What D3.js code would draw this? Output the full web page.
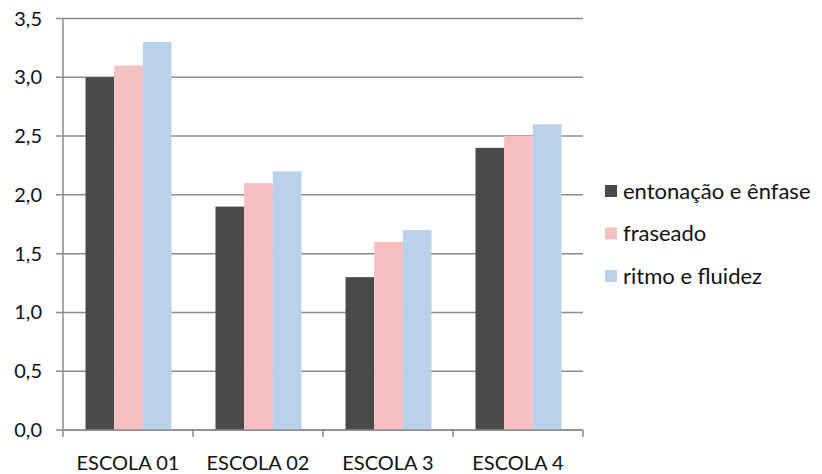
<!DOCTYPE html>
<html>
<head>
<meta charset="utf-8">
<script src="https://cdn.jsdelivr.net/npm/d3@7"></script>
<style>
  html, body { margin: 0; padding: 0; background: #fff; }
  svg { display: block; }
  text { font-family: Lato, "Open Sans", sans-serif; fill: #111; }
</style>
</head>
<body>
<svg id="chart" width="822" height="474"></svg>
<script>
// Scores per school for each reading criterion
const categories = ["ESCOLA 01", "ESCOLA 02", "ESCOLA 3", "ESCOLA 4"];
const seriesNames = ["entonação e ênfase", "fraseado", "ritmo e fluidez"];
const entonacao = [3.0, 1.9, 1.3, 2.4];
const fraseado = [3.1, 2.1, 1.6, 2.5];
const ritmo = [3.3, 2.2, 1.7, 2.6];
const yTicks = [0, 0.5, 1.0, 1.5, 2.0, 2.5, 3.0, 3.5];
const colors = ["#4a4a4a", "#f5c0c0", "#b9d1ea"];

const seriesValues = [entonacao, fraseado, ritmo];

const svg = d3.select("#chart");
const plotLeft = 63, plotRight = 583, plotTop = 18.5, plotBottom = 430;
const fmt = v => v.toFixed(1).replace(".", ",");

const y = d3.scaleLinear().domain([0, 3.5]).range([plotBottom, plotTop]);
const x0 = d3.scaleBand().domain(categories).range([plotLeft, plotRight]).padding(0);
const x1 = d3.scaleBand().domain(seriesNames)
  .range([22.5, x0.bandwidth() - 21.5]).padding(0);

// Horizontal gridlines with small ticks to the left
const grid = svg.append("g");
grid.selectAll("line.grid").data(yTicks).join("line")
  .attr("x1", plotLeft - 7).attr("x2", plotRight)
  .attr("y1", d => y(d)).attr("y2", d => y(d))
  .attr("stroke", "#8c8c8c").attr("stroke-width", 1.5);

// Bars
const groups = svg.append("g").selectAll("g").data(categories).join("g")
  .attr("transform", d => `translate(${x0(d)},0)`);
groups.selectAll("rect")
  .data((c, i) => seriesNames.map((s, j) => ({ s, v: seriesValues[j][i], j })))
  .join("rect")
  .attr("x", d => x1(d.s))
  .attr("width", x1.bandwidth())
  .attr("y", d => y(d.v))
  .attr("height", d => y(0) - y(d.v))
  .attr("fill", d => colors[d.j]);

// Axis lines
svg.append("line").attr("x1", plotLeft).attr("x2", plotLeft).attr("y1", plotTop).attr("y2", plotBottom)
  .attr("stroke", "#8c8c8c").attr("stroke-width", 1.5);
svg.append("line").attr("x1", plotLeft).attr("x2", plotRight).attr("y1", plotBottom).attr("y2", plotBottom)
  .attr("stroke", "#8c8c8c").attr("stroke-width", 1.5);
const boundaries = categories.map(c => x0(c)).concat([plotRight]);
svg.append("g").selectAll("line").data(boundaries).join("line")
  .attr("x1", d => d).attr("x2", d => d)
  .attr("y1", plotBottom).attr("y2", plotBottom + 7)
  .attr("stroke", "#8c8c8c").attr("stroke-width", 1.5);

// Y tick labels
svg.append("g").selectAll("text").data(yTicks).join("text")
  .attr("x", 42).attr("y", d => y(d)).attr("dy", "0.35em")
  .attr("text-anchor", "end").attr("font-size", 20)
  .text(fmt);

// X category labels
svg.append("g").selectAll("text").data(categories).join("text")
  .attr("x", d => x0(d) + x0.bandwidth() / 2).attr("y", 463).attr("dy", "0.35em")
  .attr("text-anchor", "middle").attr("font-size", 20)
  .text(d => d);

// Legend
const legend = svg.append("g").selectAll("g").data(seriesNames).join("g")
  .attr("transform", (d, i) => `translate(605,${191 + i * 42.5})`);
legend.append("rect").attr("x", 0).attr("y", -6).attr("width", 12).attr("height", 12)
  .attr("fill", (d, i) => colors[i]);
legend.append("text").attr("x", 18).attr("y", 0).attr("dy", "0.35em")
  .attr("font-size", 22).text(d => d);
</script>
</body>
</html>
